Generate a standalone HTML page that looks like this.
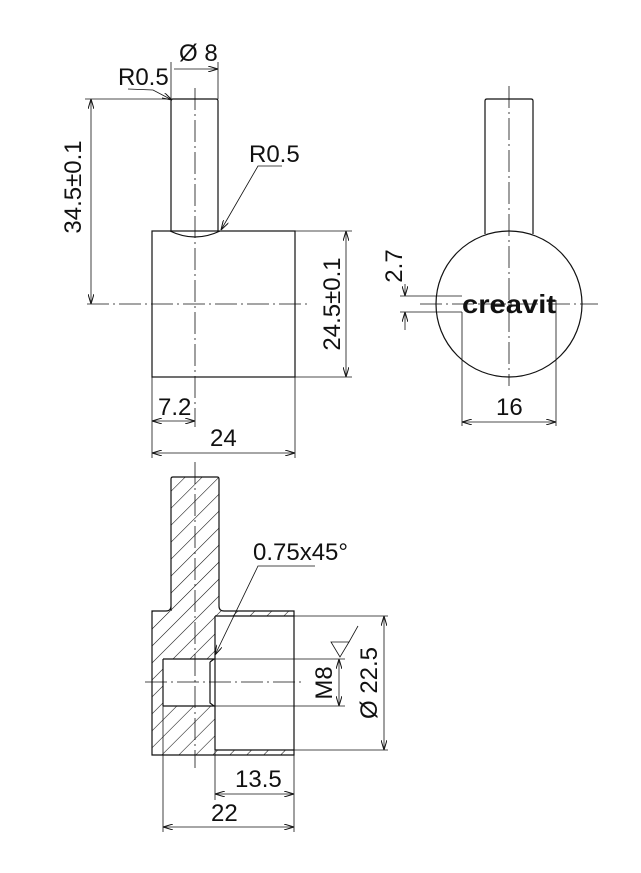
<!DOCTYPE html>
<html><head><meta charset="utf-8"><style>
html,body{margin:0;padding:0;background:#fff;}
svg{display:block;}
text{font-family:"Liberation Sans",sans-serif;font-size:24px;fill:#111;}
</style></head><body>
<svg width="641" height="873" viewBox="0 0 641 873" xmlns="http://www.w3.org/2000/svg">
<defs>
<marker id="a" viewBox="0 0 10 6" refX="10" refY="3" markerWidth="10" markerHeight="6" orient="auto-start-reverse" markerUnits="userSpaceOnUse"><path d="M0,0 L10,3 L0,6" fill="none" stroke="#111" stroke-width="1"/></marker>
<pattern id="h" patternUnits="userSpaceOnUse" width="12" height="12" patternTransform="rotate(45)"><line x1="0" y1="0" x2="0" y2="12" stroke="#111" stroke-width="1.1"/></pattern>
</defs>
<g stroke="#111" stroke-width="1.2" fill="none">
<path d="M171,231 L171,101 Q171,99 173,99 L216,99 Q218,99 218,101 L218,231"/>
<path d="M170,231 Q195,243 220,231"/>
<rect x="152" y="231" width="143" height="146"/>
</g>
<g stroke="#111" stroke-width="0.8" fill="none">
<line x1="195" y1="88" x2="195" y2="427" stroke-dasharray="22,4,2,4"/>
<line x1="87" y1="304" x2="307" y2="304" stroke-dasharray="22,4,2,4"/>
<line x1="85" y1="99" x2="170" y2="99"/>
<line x1="91" y1="99" x2="91" y2="304" marker-start="url(#a)" marker-end="url(#a)"/>
<line x1="171" y1="99" x2="171" y2="62"/><line x1="218" y1="99" x2="218" y2="62"/>
<line x1="174" y1="69" x2="218" y2="69" marker-end="url(#a)"/>
<polyline points="128,89 153,90 172,100" marker-end="url(#a)"/>
<polyline points="282,166 258,166 221,230" marker-end="url(#a)"/>
<line x1="295" y1="231" x2="352" y2="231"/><line x1="295" y1="377" x2="352" y2="377"/>
<line x1="346" y1="231" x2="346" y2="377" marker-start="url(#a)" marker-end="url(#a)"/>
<line x1="152" y1="377" x2="152" y2="458"/><line x1="295" y1="377" x2="295" y2="458"/>
<line x1="152" y1="421" x2="195" y2="421" marker-start="url(#a)" marker-end="url(#a)"/>
<line x1="152" y1="453" x2="295" y2="453" marker-start="url(#a)" marker-end="url(#a)"/>
</g>
<text x="179" y="61">Ø 8</text>
<text x="118" y="85">R0.5</text>
<text x="249" y="162">R0.5</text>
<text transform="translate(81,187) rotate(-90)" text-anchor="middle">34.5±0.1</text>
<text transform="translate(340,304) rotate(-90)" text-anchor="middle">24.5±0.1</text>
<text x="158" y="415">7.2</text>
<text x="210" y="446">24</text>

<g stroke="#111" stroke-width="1.2" fill="none">
<path d="M485,234 L485,101 Q485,99 487,99 L531,99 Q533,99 533,101 L533,234"/>
<circle cx="509" cy="304" r="73"/>
</g>
<g stroke="#111" stroke-width="0.8" fill="none">
<line x1="509" y1="86" x2="509" y2="386" stroke-dasharray="22,4,2,4"/>
<line x1="420" y1="304" x2="598" y2="304" stroke-dasharray="22,4,2,4"/>
<line x1="400" y1="296" x2="462" y2="296"/><line x1="400" y1="312" x2="462" y2="312"/>
<line x1="405" y1="284" x2="405" y2="296" marker-end="url(#a)"/>
<line x1="405" y1="330" x2="405" y2="312" marker-end="url(#a)"/>
<line x1="462" y1="312" x2="462" y2="426"/><line x1="556" y1="300" x2="556" y2="426"/>
<line x1="462" y1="422" x2="556" y2="422" marker-start="url(#a)" marker-end="url(#a)"/>
</g>
<text x="462" y="313" textLength="94" lengthAdjust="spacingAndGlyphs" style="font-size:26px;font-weight:bold" fill="#222">creavit</text>
<text transform="translate(402,266) rotate(-90)" text-anchor="middle">2.7</text>
<text x="496" y="415">16</text>

<path d="M171,477 L219,477 L219,611 L294,611 L294,755 L152,755 L152,611 L171,611 Z" fill="url(#h)" stroke="none"/>
<rect x="215" y="616" width="79" height="134" fill="#fff"/>
<rect x="163" y="659" width="52" height="47" fill="#fff"/>
<g stroke="#111" stroke-width="1.2" fill="none">
<path d="M171,611 L171,479 Q171,477 173,477 L217,477 Q219,477 219,479 L219,606 Q219,611 224,611 L294,611 L294,755 L152,755 L152,611 L166,611 Q171,611 171,606"/>
<line x1="215" y1="616" x2="294" y2="616"/>
<line x1="215" y1="750" x2="294" y2="750"/>
<line x1="215" y1="616" x2="215" y2="750"/>
<line x1="163" y1="659" x2="215" y2="659"/>
<line x1="163" y1="706" x2="215" y2="706"/>
<line x1="163" y1="659" x2="163" y2="706"/>
<polyline points="210,662 210,703 214,706"/>
<line x1="210" y1="662" x2="214" y2="659"/>
</g>
<g stroke="#111" stroke-width="0.8" fill="none">
<line x1="195" y1="462" x2="195" y2="768" stroke-dasharray="22,4,2,4"/>
<line x1="145" y1="682" x2="305" y2="682" stroke-dasharray="22,4,2,4"/>
<line x1="215" y1="659" x2="345" y2="659"/><line x1="215" y1="706" x2="345" y2="706"/>
<line x1="294" y1="616" x2="388" y2="616"/><line x1="294" y1="750" x2="388" y2="750"/>
<line x1="384" y1="616" x2="384" y2="750" marker-start="url(#a)" marker-end="url(#a)"/>
<line x1="339" y1="659" x2="339" y2="706" marker-start="url(#a)" marker-end="url(#a)"/>
<path d="M331,642 L349,642 L340,657 Z"/><line x1="349" y1="642" x2="358" y2="626"/>
<polyline points="315,566 258,566 215,655" marker-end="url(#a)"/>
<line x1="163" y1="706" x2="163" y2="832"/><line x1="215" y1="706" x2="215" y2="800"/><line x1="294" y1="755" x2="294" y2="832"/>
<line x1="215" y1="794" x2="294" y2="794" marker-start="url(#a)" marker-end="url(#a)"/>
<line x1="163" y1="827" x2="294" y2="827" marker-start="url(#a)" marker-end="url(#a)"/>
</g>
<text x="253" y="560">0.75x45°</text>
<text transform="translate(332,683) rotate(-90)" text-anchor="middle">M8</text>
<text transform="translate(377,683) rotate(-90)" text-anchor="middle">Ø 22.5</text>
<text x="235" y="787">13.5</text>
<text x="211" y="821">22</text>
</svg>
</body></html>
